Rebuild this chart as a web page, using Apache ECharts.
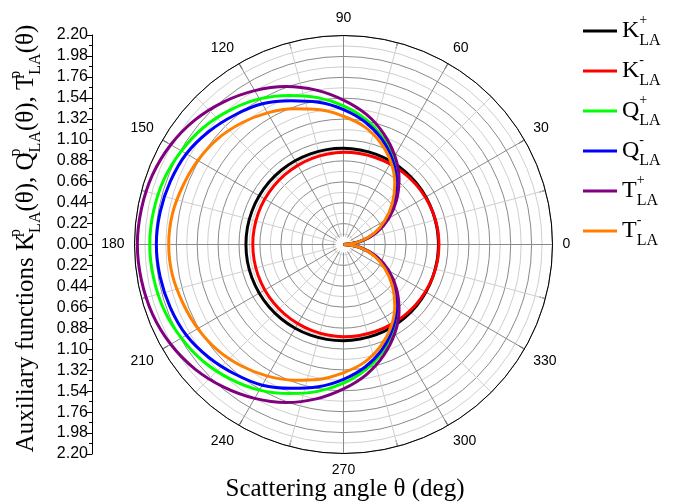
<!DOCTYPE html>
<html>
<head>
<meta charset="utf-8">
<script src="https://cdn.jsdelivr.net/npm/echarts@6/dist/echarts.min.js"></script>
<style>
  html, body { margin: 0; padding: 0; background: #fff; }
  #chart { width: 696px; height: 504px; }
</style>
</head>
<body>
<div id="chart"></div>
<script>
// scattering angle (deg), upper half; the lower half mirrors it
const angleDeg = [0, 10, 20, 30, 40, 50, 60, 70, 80, 90, 100, 110, 120, 130, 140, 150, 160, 170, 180];

// radial values
const kPlus  = [1.00, 1.00, 1.00, 1.002, 1.004, 1.006, 1.008, 1.01, 1.01, 1.012, 1.014, 1.016, 1.018, 1.02, 1.022, 1.024, 1.026, 1.027, 1.027];
const kMinus = [1.005, 1.004, 1.00, 0.995, 0.99, 0.985, 0.98, 0.975, 0.972, 0.97, 0.967, 0.965, 0.962, 0.96, 0.958, 0.957, 0.956, 0.955, 0.955];
const qPlus  = [0, 0.18, 0.36, 0.53, 0.71, 0.88, 1.05, 1.20, 1.34, 1.46, 1.57, 1.67, 1.77, 1.85, 1.92, 1.97, 2.01, 2.03, 2.04];
const qMinus = [0, 0.17, 0.35, 0.52, 0.70, 0.87, 1.03, 1.18, 1.31, 1.42, 1.52, 1.61, 1.71, 1.78, 1.85, 1.91, 1.94, 1.96, 1.97];
const tPlus  = [0, 0.18, 0.37, 0.55, 0.73, 0.91, 1.08, 1.24, 1.39, 1.52, 1.65, 1.77, 1.87, 1.96, 2.04, 2.10, 2.14, 2.16, 2.17];
const tMinus = [0, 0.17, 0.34, 0.50, 0.67, 0.84, 1.00, 1.14, 1.26, 1.35, 1.44, 1.52, 1.60, 1.67, 1.73, 1.77, 1.80, 1.83, 1.84];

const seriesNames  = ['K+', 'K-', 'Q+', 'Q-', 'T+', 'T-'];
const seriesColors = ['#000000', '#ff0000', '#00ff00', '#0000ff', '#800080', '#ff8000'];
const seriesValues = [kPlus, kMinus, qPlus, qMinus, tPlus, tMinus];

const radiusMax = 2.2;
const radiusStep = 0.22;

const chart = echarts.init(document.getElementById('chart'));

// [radius, angle] pairs all the way round
function closedCurve(vals) {
  const top = angleDeg.map((a, i) => [vals[i], a]);
  const bottom = [];
  for (let i = angleDeg.length - 2; i >= 0; i--) {
    bottom.push([vals[i], 360 - angleDeg[i]]);
  }
  return top.concat(bottom);
}

const serif = 'Liberation Serif';
const sans = 'Liberation Sans';

const series = seriesNames.map((name, i) => ({
  name: name,
  type: 'line',
  coordinateSystem: 'polar',
  polarIndex: 0,
  data: closedCurve(seriesValues[i]),
  symbol: 'none',
  smooth: 0.4,
  lineStyle: { color: seriesColors[i], width: 3 },
  itemStyle: { color: seriesColors[i] },
  z: 3
}));

const option = {
  backgroundColor: '#fff',
  animation: false,
  polar: { center: [343.5, 244.5], radius: 209 },
  angleAxis: {
    type: 'value',
    min: 0,
    max: 360,
    interval: 30,
    startAngle: 0,
    clockwise: false,
    axisLine: { lineStyle: { color: '#000', width: 1 } },
    axisTick: { show: true, inside: true, length: 6, lineStyle: { color: '#000' } },
    minorTick: { show: true, splitNumber: 2, length: 6, lineStyle: { color: '#000' } },
    axisLabel: { fontFamily: sans, fontSize: 14, color: '#000', margin: 10 },
    splitLine: { show: true, lineStyle: { color: '#8a8a8a', width: 1 } },
    minorSplitLine: { show: true, lineStyle: { color: '#cfcfcf', width: 1 } }
  },
  radiusAxis: {
    type: 'value',
    min: 0,
    max: radiusMax,
    interval: radiusStep,
    axisLine: { show: false },
    axisTick: { show: false },
    axisLabel: { show: false },
    minorTick: { show: false, splitNumber: 2 },
    splitLine: { show: true, lineStyle: { color: '#8a8a8a', width: 1 } },
    minorSplitLine: { show: true, lineStyle: { color: '#cfcfcf', width: 1 } }
  },
  grid: { left: 92, top: 35, bottom: 50, width: 1 },
  xAxis: { type: 'value', show: false },
  yAxis: {
    type: 'value',
    min: -radiusMax,
    max: radiusMax,
    interval: radiusStep,
    axisLine: { show: true, lineStyle: { color: '#000' } },
    axisTick: { show: true, length: 5, lineStyle: { color: '#000' } },
    minorTick: { show: true, splitNumber: 2, length: 3, lineStyle: { color: '#000' } },
    splitLine: { show: false },
    axisLabel: {
      fontFamily: sans, fontSize: 16, color: '#000', margin: 4,
      formatter: v => Math.abs(v).toFixed(2)
    }
  },
  legend: {
    data: seriesNames,
    orient: 'vertical',
    left: 578,
    top: 8,
    icon: 'rect',
    itemWidth: 34,
    itemHeight: 3,
    itemGap: 4,
    formatter: name => '{b|' + name[0] + '}{sp|' + name[1] + '}{sb|LA}',
    textStyle: {
      color: '#000',
      rich: {
        b:  { fontFamily: serif, fontSize: 24, lineHeight: 36, color: '#000' },
        sp: { fontFamily: serif, fontSize: 14, lineHeight: 21, verticalAlign: 'top', width: 0, color: '#000' },
        sb: { fontFamily: serif, fontSize: 16, lineHeight: 15, verticalAlign: 'bottom', color: '#000' }
      }
    }
  },
  graphic: [
    {
      type: 'circle',
      shape: { cx: 343.5, cy: 244.5, r: 8 },
      style: { fill: '#fff' },
      z: 1
    },
    {
      type: 'text',
      x: 345,
      y: 489,
      style: {
        text: 'Scattering angle θ (deg)',
        font: '25px "Liberation Serif"',
        fill: '#000',
        align: 'center',
        verticalAlign: 'middle'
      }
    },
    {
      type: 'text',
      x: 26,
      y: 238.5,
      rotation: Math.PI / 2,
      style: {
        text: '{a|Auxiliary functions K}{sp|p}{sb|LA}{a|(θ), Q}{sp|p}{sb|LA}{a|(θ), T}{sp|p}{sb|LA}{a|(θ)}',
        align: 'center',
        verticalAlign: 'middle',
        fill: '#000',
        rich: {
          a:  { fontFamily: serif, fontSize: 25, lineHeight: 36, fill: '#000' },
          sp: { fontFamily: serif, fontSize: 16, lineHeight: 21, verticalAlign: 'top', width: 0, fill: '#000' },
          sb: { fontFamily: serif, fontSize: 16, lineHeight: 15, verticalAlign: 'bottom', fill: '#000' }
        }
      }
    }
  ],
  series: series
};

chart.setOption(option);
</script>
</body>
</html>
